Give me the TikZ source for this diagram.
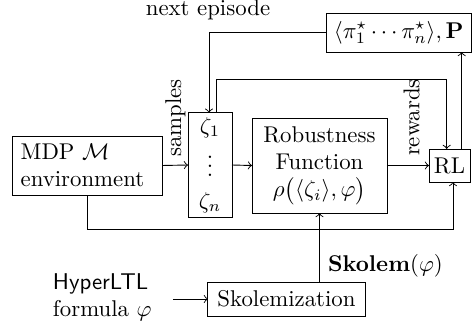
\documentclass[tikz,border=0pt]{standalone}
\usepackage{amsmath,amssymb}
\begin{document}
\begin{tikzpicture}[x=0.4386pt,y=-0.4386pt,
  box/.style={draw, inner sep=2pt, outer sep=0pt, align=center},
  conn/.style={->}]
\useasboundingbox (0,0) rectangle (472,326);
% nodes
\node[box, minimum width=65.8pt, minimum height=25.9pt, text width=58.2pt, inner xsep=3.8pt, align=left] (mdp) at (87,165.5) {MDP $\mathcal{M}$\\environment};
\node[box, minimum width=19.3pt, minimum height=45.6pt] (zeta) at (210,165) {$\zeta_1$\\[1pt]$\vdots$\\[2pt]$\zeta_n$};
\node[box, minimum width=59.2pt, minimum height=41.7pt] (rob) at (319.5,165.5) {Robustness\\Function\\$\rho\big(\langle\zeta_i\rangle,\varphi\big)$};
\node[box, minimum width=18pt, minimum height=14.5pt] (rl) at (449.5,165.5) {RL};
\node[box, minimum width=63.8pt, minimum height=17.1pt] (top) at (398.75,32.5) {$\langle\pi_1^\star\cdots\pi_n^\star\rangle,\mathbf{P}$};
\node[box, minimum width=68.9pt, minimum height=14.9pt] (skol) at (286.5,299) {Skolemization};
\node[inner sep=3.5pt, outer sep=0pt, text width=49.1pt, align=left, anchor=west] (hyp) at (45,297) {\textsf{HyperLTL}\\formula $\varphi$};
% labels
\node (next) at (208,10) {next episode};
\node[rotate=90] (samp) at (175.5,118) {samples};
\node[rotate=90] (rew) at (411.5,117.5) {rewards};
\node (skl) at (385.5,266) {$\mathbf{Skolem}(\varphi)$};
% coordinates
\coordinate (n1) at (209,32.5);
\coordinate (r1) at (216.7,79);
\coordinate (r2) at (446.7,79);
\coordinate (u1) at (461.7,0);
\coordinate (b1) at (453,229);
\coordinate (h1) at (173,299);
% connectors
\draw[conn] (mdp.east) -- (zeta.west);
\draw[conn] (zeta.east) -- (rob.west);
\draw[conn] (rob.east) -- (rl.west);
\draw[conn] (top.west) -- (n1) -- (n1 |- zeta.north);
\draw[conn] (r1 |- zeta.north) -- (r1) -- (r2) -- (r2 |- rl.north);
\draw[conn] (u1 |- rl.north) -- (u1 |- top.south);
\draw[conn] (mdp.south) |- (b1) -- (b1 |- rl.south);
\draw[conn] (skol.north) -| (rob.south);
\draw[conn] (h1) -- (skol.west);
\end{tikzpicture}
\end{document}
